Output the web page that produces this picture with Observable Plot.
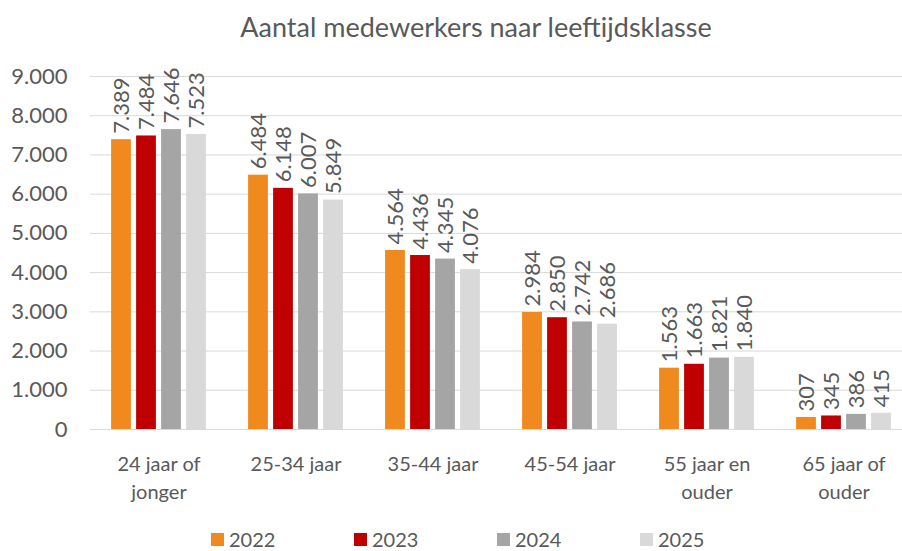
<!DOCTYPE html>
<html>
<head>
<meta charset="utf-8">
<script src="https://cdn.jsdelivr.net/npm/d3@7"></script>
<script src="https://cdn.jsdelivr.net/npm/@observablehq/plot@0.6"></script>
<style>
  html, body { margin: 0; padding: 0; background: #fff; }
  #wrap { position: relative; width: 902px; height: 551px; overflow: hidden; font-family: Lato, sans-serif; color: #595959; }
  #title { position: absolute; left: 0; top: 10px; width: 952px; text-align: center; font-size: 27px; line-height: 34px; }
  #chart { position: absolute; left: 0; top: 0; }
  #legend { position: absolute; left: 0; top: 527px; width: 902px; height: 24px; }
  .item { position: absolute; top: 0; height: 24px; display: flex; align-items: center; font-size: 20px; }
  .sw { width: 13px; height: 13px; margin-right: 5px; }
</style>
</head>
<body>
<div id="wrap">
  <div id="chart"></div>
  <div id="title">Aantal medewerkers naar leeftijdsklasse</div>
  <div id="legend"></div>
</div>
<script>
const categories = ["24 jaar of\njonger", "25-34 jaar", "35-44 jaar", "45-54 jaar", "55 jaar en\nouder", "65 jaar of\nouder"];
const years = ["2022", "2023", "2024", "2025"];
const v2022 = [7389, 6484, 4564, 2984, 1563, 307];
const v2023 = [7484, 6148, 4436, 2850, 1663, 345];
const v2024 = [7646, 6007, 4345, 2742, 1821, 386];
const v2025 = [7523, 5849, 4076, 2686, 1840, 415];
const yTicks = [0, 1000, 2000, 3000, 4000, 5000, 6000, 7000, 8000, 9000];
const colors = ["#F08A1E", "#C00000", "#A5A5A5", "#D9D9D9"];

const series = [v2022, v2023, v2024, v2025];
const rows = [];
years.forEach((yr, i) => categories.forEach((c, j) => rows.push({year: yr, category: c, value: series[i][j]})));

const fmt = v => d3.format(",")(v).replace(/,/g, ".");
const offsets = [-37.5, -12.5, 12.5, 37.5];
const step = 137.2;
const inset = (step - 20) / 2;

const marks = [
  Plot.ruleY(yTicks, {stroke: "#d9d9d9", strokeWidth: 1}),
  Plot.axisY({ticks: yTicks, tickSize: 0, tickPadding: 23, tickFormat: fmt, fontSize: 22, fill: "#595959", label: null}),
  Plot.axisX({tickSize: 0, tickPadding: 22, fontSize: 20, lineHeight: 1.4, fill: "#595959", label: null})
];
years.forEach((yr, i) => {
  const d = rows.filter(r => r.year === yr);
  marks.push(Plot.barY(d, {x: "category", y: "value", fill: colors[i], insetLeft: inset, insetRight: inset, dx: offsets[i]}));
  marks.push(Plot.text(d, {x: "category", y: "value", text: r => fmt(r.value), rotate: -90, textAnchor: "start", lineAnchor: "middle", dx: offsets[i], dy: -6, fontSize: 22, fill: "#595959"}));
});

const chart = Plot.plot({
  width: 902,
  height: 551,
  marginLeft: 90,
  marginRight: 0,
  marginTop: 76,
  marginBottom: 122,
  style: {fontFamily: "Lato, sans-serif", color: "#595959", background: "transparent"},
  x: {type: "band", domain: categories, range: [89.5, 89.5 + 6 * step], padding: 0},
  y: {domain: [0, 9000], range: [429, 76]},
  marks
});
document.getElementById("chart").appendChild(chart);

const lg = document.getElementById("legend");
const lx = [211, 354, 497, 640];
years.forEach((yr, i) => {
  const it = document.createElement("div");
  it.className = "item";
  it.style.left = lx[i] + "px";
  it.innerHTML = `<span class="sw" style="background:${colors[i]}"></span><span>${yr}</span>`;
  lg.appendChild(it);
});
</script>
</body>
</html>
